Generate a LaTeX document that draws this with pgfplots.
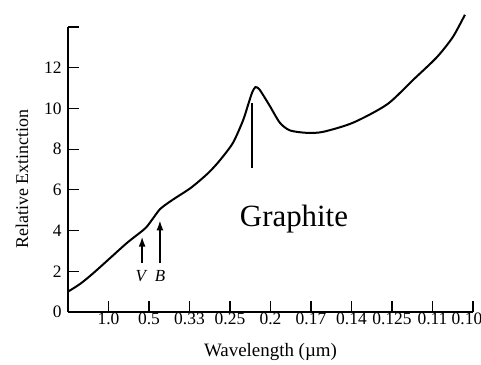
\documentclass[border=0pt]{standalone}
\usepackage{fontspec}
\setmainfont{Liberation Serif}
\usepackage{pgfplots}
\pgfplotsset{compat=1.18}
\usetikzlibrary{arrows.meta}
\begin{document}
\begin{tikzpicture}
\path[use as bounding box] (0,0) rectangle (481bp,365bp);
\begin{axis}[
  at={(68bp,53bp)}, anchor=south west,
  scale only axis, width=405bp, height=285bp,
  xmin=0, xmax=10, ymin=0, ymax=14,
  axis x line*=bottom, axis y line*=left,
  axis line style={line width=1.5bp},
  clip=false,
  tick style={line width=1.2bp, black},
  major tick length=11bp,
  tick align=inside,
  xtick={1,2,...,10},
  xticklabels={1.0,0.5,0.33,0.25,0.2,0.17,0.14,0.125,0.11,\hspace*{-12bp}0.10},
  ytick={0,2,...,14},
  yticklabels={0,2,4,6,8,10,12,},
  /pgf/number format/assume math mode=true,
  ticklabel style={font=\fontsize{17.5}{19}\selectfont},
  xticklabel style={yshift=3bp, inner xsep=0pt},
  yticklabel style={xshift=-3bp},
  xlabel={Wavelength (µm)},
  ylabel={Relative Extinction},
  xlabel style={font=\fontsize{19}{21}\selectfont, at={(axis description cs:0.5,-0.14)}, anchor=center},
  ylabel style={font=\fontsize{18}{20}\selectfont, at={(axis description cs:-0.1136,0.467)}, anchor=center},
]
\addplot[black, line width=2bp, smooth, tension=0.45] coordinates {
(0,1.0) (0.3,1.38) (0.62,1.9) (1.04,2.65) (1.46,3.4) (1.83,3.98) (1.95,4.2)
(2.1,4.6) (2.27,5.05) (2.5,5.4) (2.69,5.65) (3.0,6.05) (3.25,6.45) (3.5,6.9)
(3.75,7.45) (4.07,8.3) (4.32,9.4) (4.45,10.2) (4.55,10.8) (4.63,11.05)
(4.72,10.95) (4.82,10.65) (4.99,10.1) (5.23,9.3) (5.48,8.92) (5.9,8.8)
(6.3,8.85) (7.04,9.3) (7.88,10.2) (8.52,11.4) (9.1,12.5) (9.5,13.5) (9.8,14.6)
};
\draw[-{Latex[length=10bp,width=7bp]}, line width=1.6bp] (axis cs:1.83,2.4) -- (axis cs:1.83,3.7);
\draw[-{Latex[length=10bp,width=7bp]}, line width=1.6bp] (axis cs:2.27,2.4) -- (axis cs:2.27,4.5);
\node[font=\fontsize{17}{19}\selectfont\itshape] at (axis cs:1.8,1.75) {V};
\node[font=\fontsize{17}{19}\selectfont\itshape] at (axis cs:2.27,1.75) {B};
\draw[line width=1.4bp] (axis cs:4.54,10.25) -- (axis cs:4.54,7.06);
\node[font=\fontsize{31}{34}\selectfont] at (axis cs:5.58,4.55) {Graphite};
\end{axis}
\end{tikzpicture}
\end{document}
